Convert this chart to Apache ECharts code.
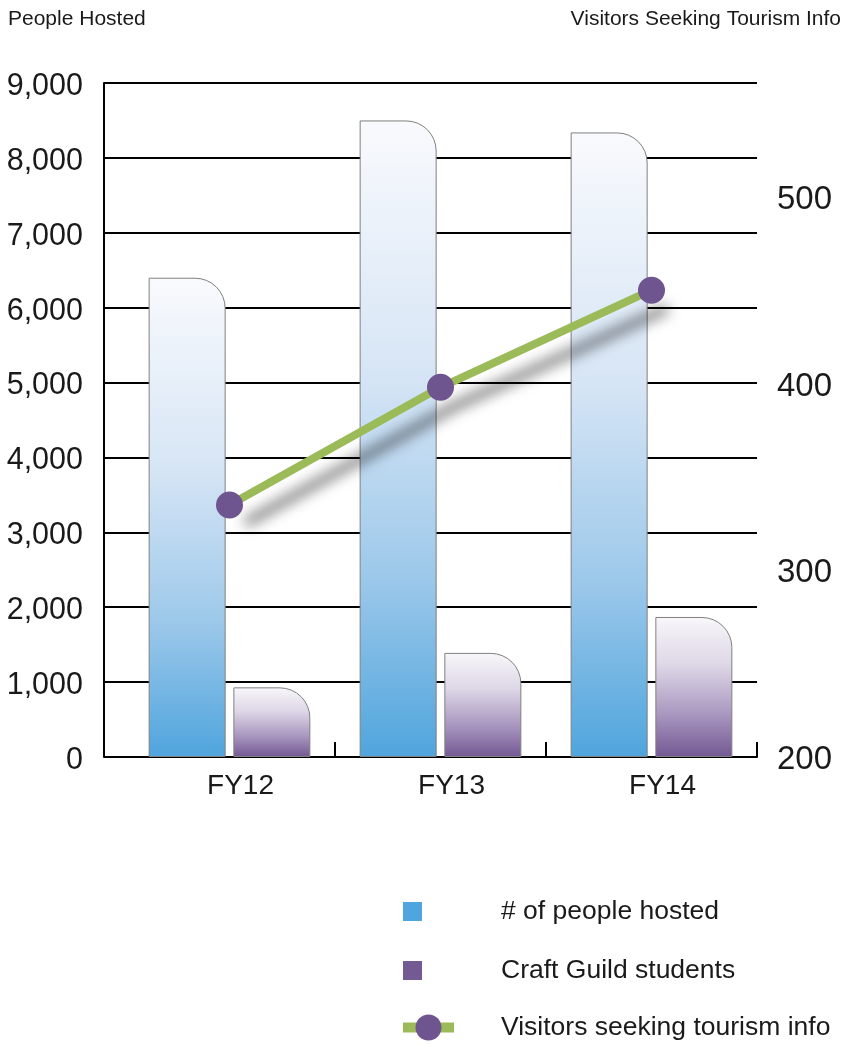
<!DOCTYPE html>
<html>
<head>
<meta charset="utf-8">
<style>
  html, body { margin: 0; padding: 0; background: #ffffff; }
  #chart { width: 853px; height: 1044px; }
</style>
<script src="https://cdn.jsdelivr.net/npm/echarts@6/dist/echarts.min.js"></script>
</head>
<body>
<div id="chart"></div>
<script>
// Fiscal years on the category axis
const categories = ['FY12', 'FY13', 'FY14'];
// People hosted and craft guild students (left axis)
const peopleHosted = [6400, 8500, 8340];
const craftGuildStudents = [930, 1390, 1870];
// Visitors seeking tourism info (right axis)
const tourismVisitors = [335, 398, 450];

// Axis ranges
const leftAxisRange = [0, 9000, 1000];
const rightAxisRange = [200, 561, 100];

const seriesNames = ['# of people hosted', 'Craft Guild students', 'Visitors seeking tourism info'];

const FONT = "'Liberation Sans', Arial, sans-serif";
const INK = '#1a1a1a';

const chart = echarts.init(document.getElementById('chart'), null, { renderer: 'canvas' });

const blueFill = new echarts.graphic.LinearGradient(0, 0, 0, 1, [
  { offset: 0, color: '#f9fafd' },
  { offset: 0.4, color: '#d6e5f5' },
  { offset: 0.72, color: '#9cc8ea' },
  { offset: 1, color: '#4fa5dd' }
]);
const purpleFill = new echarts.graphic.LinearGradient(0, 0, 0, 1, [
  { offset: 0, color: '#f8f7fa' },
  { offset: 0.35, color: '#ddd6e6' },
  { offset: 0.7, color: '#a896bf' },
  { offset: 1, color: '#735893' }
]);

const option = {
  animation: false,
  backgroundColor: '#ffffff',
  textStyle: { fontFamily: FONT },
  title: [
    {
      text: 'People Hosted', left: 8, top: 9, padding: 0,
      textStyle: { fontFamily: FONT, fontSize: 21, fontWeight: 'normal', color: INK }
    },
    {
      text: 'Visitors Seeking Tourism Info', right: 12, top: 9, padding: 0,
      textStyle: { fontFamily: FONT, fontSize: 21, fontWeight: 'normal', color: INK }
    }
  ],
  legend: [
    {
      data: [{ name: seriesNames[0], itemStyle: { color: '#4fa5dd', borderWidth: 0 } }],
      left: 403, top: 898, padding: 0, icon: 'rect',
      itemWidth: 19, itemHeight: 19, selectedMode: false,
      textStyle: { fontFamily: FONT, fontSize: 26.5, color: INK, padding: [0, 0, 0, 74] }
    },
    {
      data: [{ name: seriesNames[1], itemStyle: { color: '#745a93', borderWidth: 0 } }],
      left: 403, top: 957, padding: 0, icon: 'rect',
      itemWidth: 19, itemHeight: 19, selectedMode: false,
      textStyle: { fontFamily: FONT, fontSize: 26.5, color: INK, padding: [0, 0, 0, 74] }
    },
    {
      data: [seriesNames[2]],
      left: 398, top: 1014, padding: 0,
      itemWidth: 51, itemHeight: 32.5, selectedMode: false,
      lineStyle: { width: 10, shadowBlur: 0, shadowOffsetX: 0, shadowOffsetY: 0, shadowColor: 'rgba(0,0,0,0)' },
      itemStyle: { borderWidth: 0 },
      textStyle: { fontFamily: FONT, fontSize: 26.5, color: INK, padding: [0, 0, 0, 42] }
    }
  ],
  grid: [
    // frame with the left scale and horizontal rules
    { left: 104, right: 96, top: 83, bottom: 287 },
    // category area holding the bars and the line
    { left: 124, right: 96, top: 83, bottom: 287 }
  ],
  xAxis: [
    { type: 'value', gridIndex: 0, show: false, min: 0, max: 1 },
    {
      type: 'category', gridIndex: 1, data: categories,
      axisLine: { show: true, lineStyle: { color: '#000', width: 2 } },
      axisTick: {
        show: true, inside: true, length: 15,
        lineStyle: { color: '#000', width: 2 },
        interval: function (index) { return index > 0; }
      },
      axisLabel: {
        fontFamily: FONT, fontSize: 28, color: INK, margin: 15,
        padding: [0, 0, 0, 22]
      },
      splitLine: { show: false }
    }
  ],
  yAxis: [
    {
      type: 'value', gridIndex: 0,
      min: leftAxisRange[0], max: leftAxisRange[1], interval: leftAxisRange[2],
      axisLine: { show: true, lineStyle: { color: '#000', width: 2 } },
      axisTick: { show: false },
      axisLabel: {
        color: INK, margin: 21,
        formatter: function (v) { return '{n|' + v.toLocaleString('en-US') + '}'; },
        rich: { n: { fontFamily: FONT, fontSize: 30.5, color: INK, padding: [7, 0, 0, 0] } }
      },
      splitLine: { show: true, lineStyle: { color: '#000', width: 2 } }
    },
    {
      type: 'value', gridIndex: 1, show: false,
      min: leftAxisRange[0], max: leftAxisRange[1], interval: leftAxisRange[2],
      splitLine: { show: false }
    },
    {
      type: 'value', gridIndex: 1, position: 'right',
      min: rightAxisRange[0], max: rightAxisRange[1], interval: rightAxisRange[2],
      axisLine: { show: false },
      axisTick: { show: false },
      splitLine: { show: false },
      axisLabel: {
        color: INK, margin: 20,
        formatter: function (v) { return v % 100 === 0 ? '{n|' + v + '}' : ''; },
        rich: { n: { fontFamily: FONT, fontSize: 33, color: INK, padding: [6, 0, 0, 0] } }
      }
    }
  ],
  series: [
    {
      name: seriesNames[0], type: 'bar', xAxisIndex: 1, yAxisIndex: 1,
      data: peopleHosted, barWidth: 77, barGap: '10%',
      itemStyle: { color: blueFill, borderColor: '#808080', borderWidth: 1, borderRadius: [0, 30, 0, 0] }
    },
    {
      name: seriesNames[1], type: 'bar', xAxisIndex: 1, yAxisIndex: 1,
      data: craftGuildStudents, barWidth: 77, barGap: '10%',
      itemStyle: { color: purpleFill, borderColor: '#808080', borderWidth: 1, borderRadius: [0, 30, 0, 0] }
    },
    {
      name: seriesNames[2], type: 'line', xAxisIndex: 1, yAxisIndex: 2,
      data: tourismVisitors,
      symbol: 'circle', symbolSize: 27,
      itemStyle: { color: '#6f5590' },
      lineStyle: {
        color: '#9bbb59', width: 8,
        shadowColor: 'rgba(0,0,0,0.6)', shadowBlur: 14,
        shadowOffsetX: 16, shadowOffsetY: 18
      },
      z: 5
    }
  ]
};

chart.setOption(option);
</script>
</body>
</html>
